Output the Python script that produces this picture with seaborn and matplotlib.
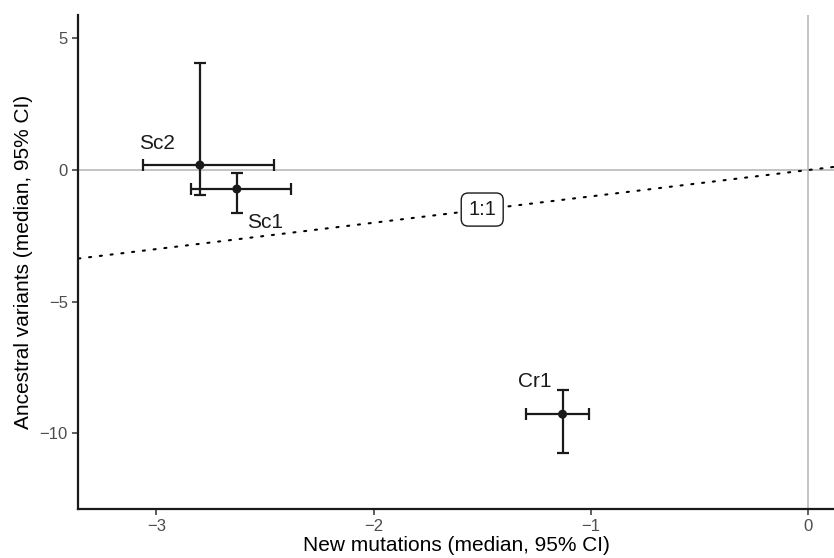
import matplotlib
matplotlib.use("Agg")
import matplotlib.pyplot as plt
import seaborn as sns
import pandas as pd
import numpy as np

# ---- data ----
labels = ["Sc2", "Sc1", "Cr1"]
new_med = [-2.80, -2.63, -1.13]
new_lo = [-3.06, -2.84, -1.30]
new_hi = [-2.46, -2.38, -1.01]
anc_med = [0.19, -0.72, -9.27]
anc_lo = [-0.95, -1.62, -10.74]
anc_hi = [4.08, -0.13, -8.36]
label_x = [-3.00, -2.50, -1.26]
label_y = [0.99, -2.00, -8.04]
x_ticks = [-3, -2, -1, 0]
y_ticks = [5, 0, -5, -10]
x_lim = (-3.36, 0.12)
y_lim = (-12.87, 5.885)
ref_label = "1:1"
ref_label_pos = (-1.50, -1.50)

df = pd.DataFrame({"label": labels, "new": new_med, "new_lo": new_lo, "new_hi": new_hi,
                   "anc": anc_med, "anc_lo": anc_lo, "anc_hi": anc_hi})

sns.set_theme(style="ticks")
plt.rcParams["font.family"] = ["Liberation Sans", "DejaVu Sans"]

fig = plt.figure(figsize=(8.34, 5.58), dpi=100)
ax = fig.add_axes([0.0939, 0.0878, 1 - 0.0939, 0.973 - 0.0878])

ax.set_xlim(*x_lim)
ax.set_ylim(*y_lim)

# reference lines
ax.axhline(0, color="#BEBEBE", lw=1.3, zorder=1)
ax.axvline(0, color="#BEBEBE", lw=1.3, zorder=1)
xs = np.array(x_lim)
ax.plot(xs, xs, color="black", lw=1.5, linestyle=(0, (1, 4.2)), zorder=2,
        dash_capstyle="round")

ink = "#1A1A1A"
ax.errorbar(df["new"], df["anc"],
            xerr=[df["new"] - df["new_lo"], df["new_hi"] - df["new"]],
            fmt="none", ecolor=ink, elinewidth=1.6, capsize=4, capthick=1.6, zorder=3)
ax.errorbar(df["new"], df["anc"],
            yerr=[df["anc"] - df["anc_lo"], df["anc_hi"] - df["anc"]],
            fmt="none", ecolor=ink, elinewidth=1.6, capsize=4, capthick=1.6, zorder=3)
sns.scatterplot(data=df, x="new", y="anc", ax=ax, color=ink, s=42,
                edgecolor="none", zorder=4, legend=False)

for lab, lx, ly in zip(labels, label_x, label_y):
    ax.text(lx, ly, lab, ha="center", va="center", fontsize=15, color=ink, zorder=5)

ax.text(ref_label_pos[0], ref_label_pos[1], ref_label, ha="center", va="center",
        fontsize=14.5, color=ink, zorder=5,
        bbox=dict(boxstyle="round,pad=0.35,rounding_size=0.35", fc="white", ec=ink, lw=1.0))

ax.set_xticks(x_ticks)
ax.set_yticks(y_ticks)
ax.set_xticklabels(["\u2212" + str(abs(t)) if t < 0 else str(t) for t in x_ticks])
ax.set_yticklabels(["\u2212" + str(abs(t)) if t < 0 else str(t) for t in y_ticks])
ax.tick_params(axis="both", colors="#333333", labelcolor="#4D4D4D", labelsize=12,
               length=4, width=1.1, pad=3.5)

ax.set_xlabel("New mutations (median, 95% CI)", fontsize=15, color="black", labelpad=1)
ax.set_ylabel("Ancestral variants (median, 95% CI)", fontsize=15, color="black", labelpad=5)

sns.despine(ax=ax)
for s in ["left", "bottom"]:
    ax.spines[s].set_color("#1A1A1A")
    ax.spines[s].set_linewidth(1.6)

fig.savefig("out.png", dpi=100)
